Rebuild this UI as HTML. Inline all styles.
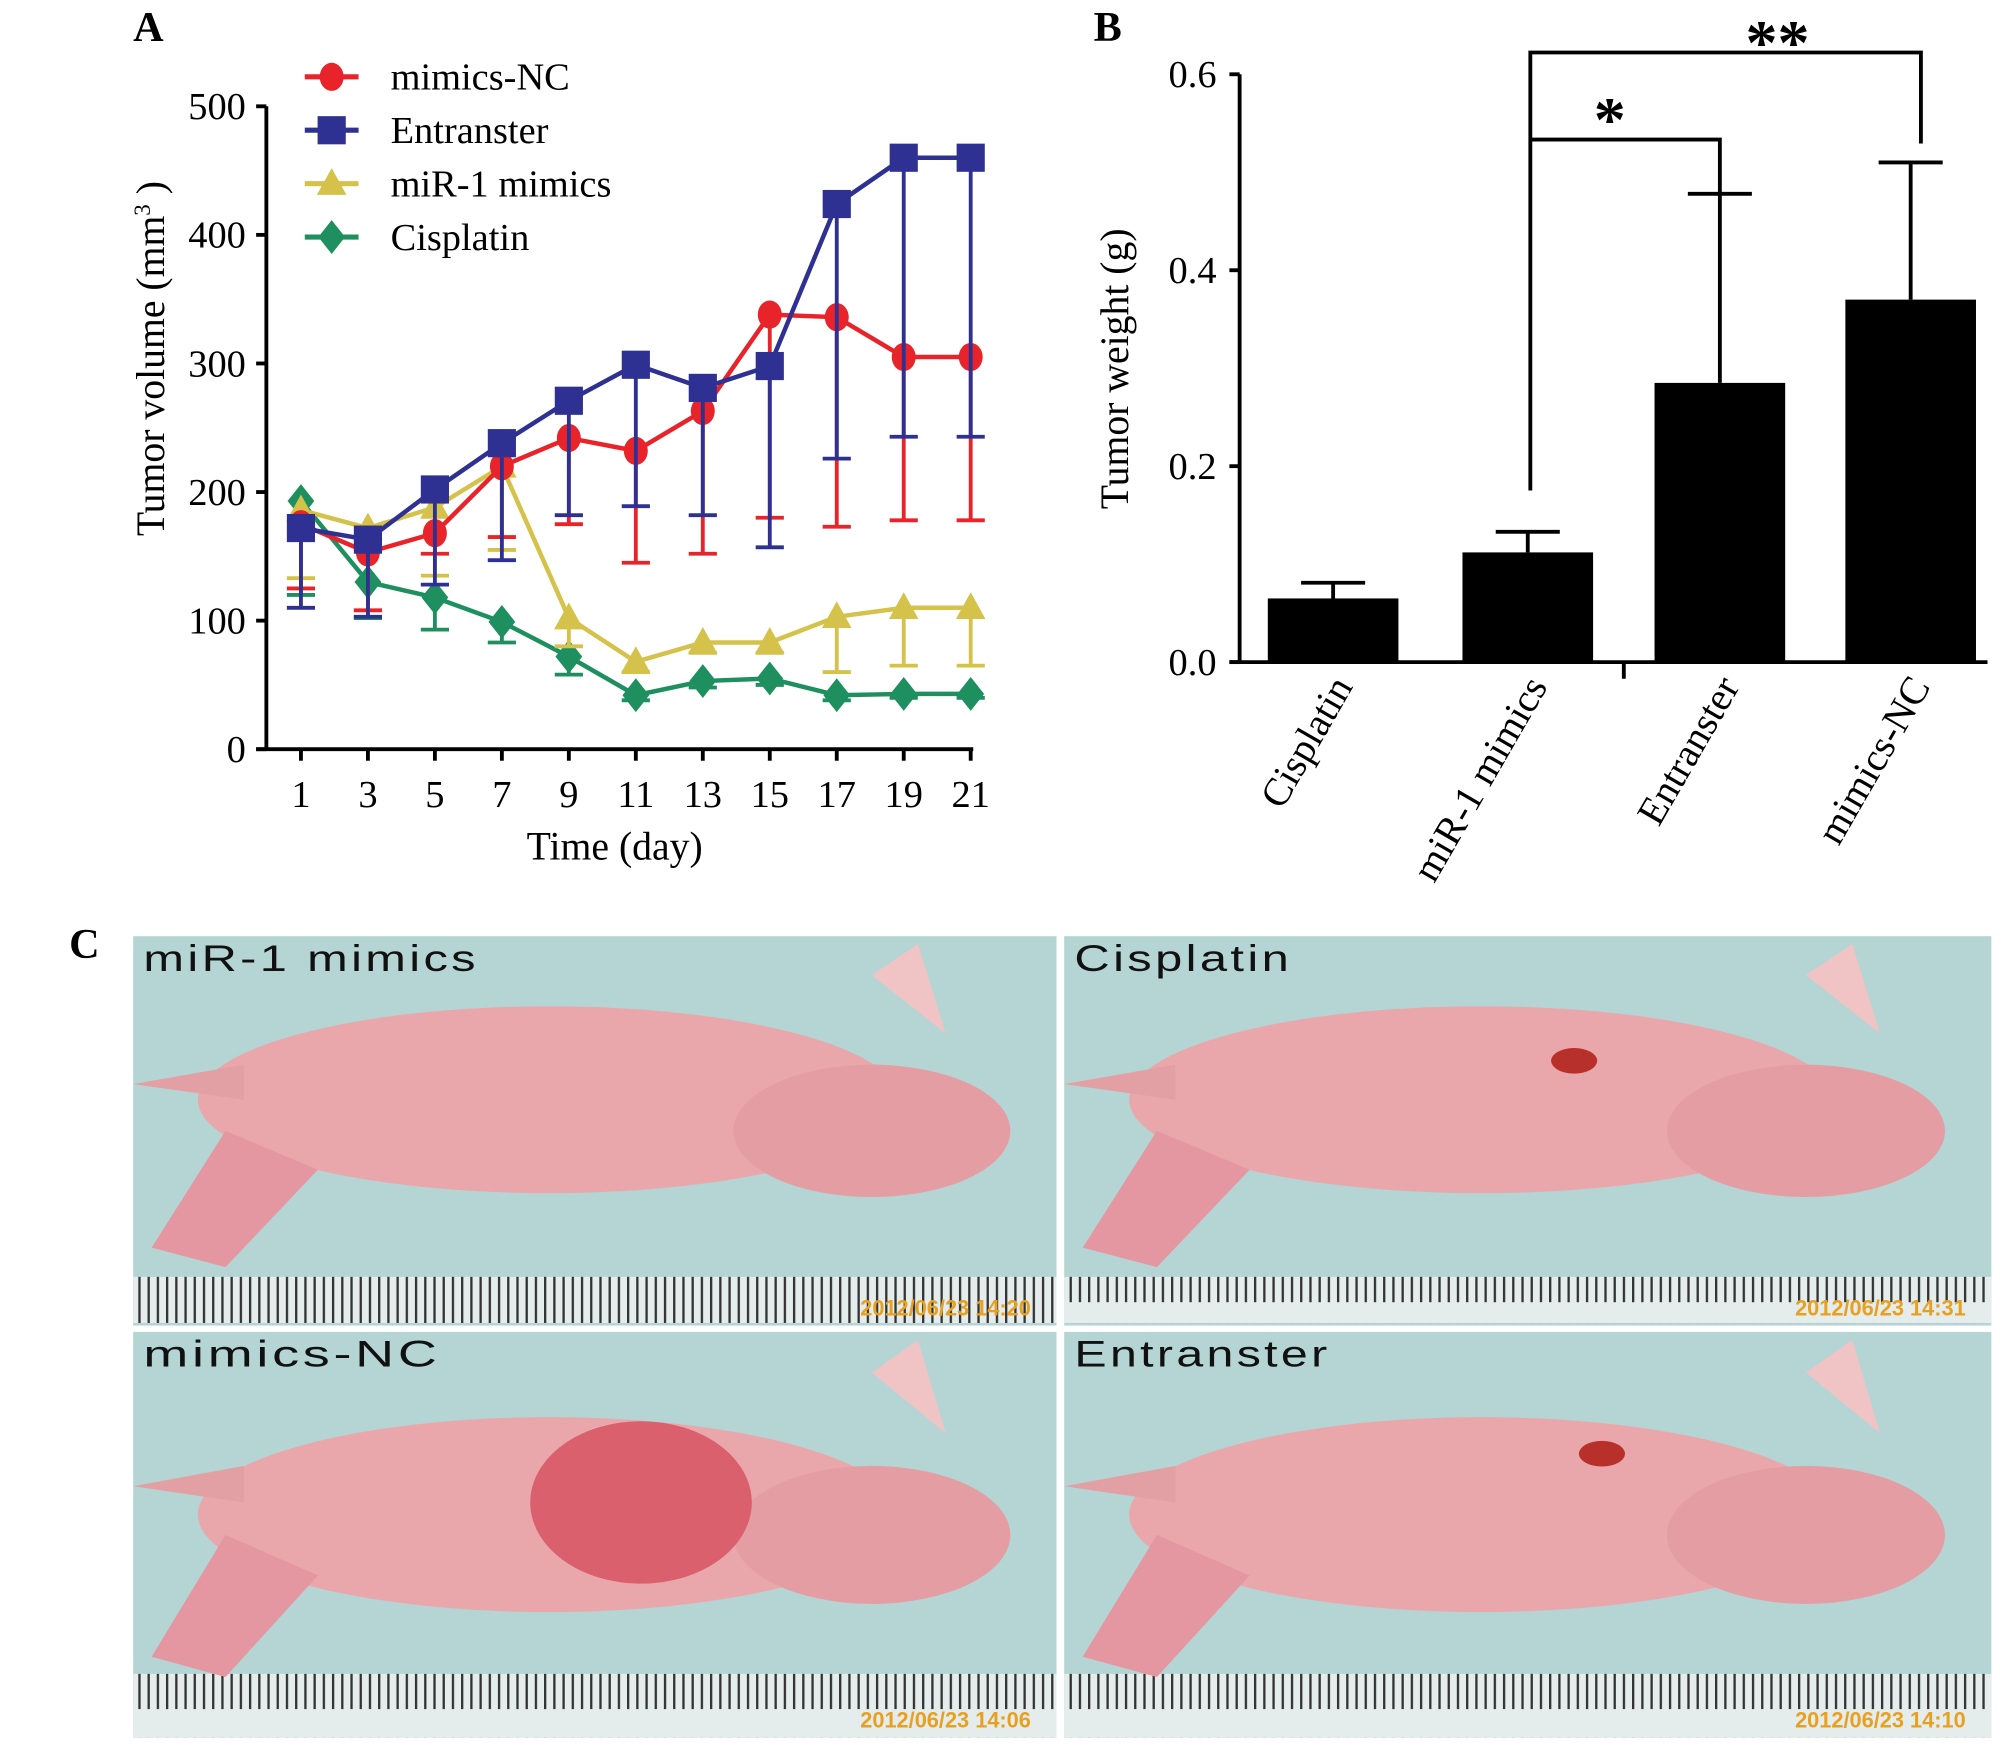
<!DOCTYPE html>
<html><head><meta charset="utf-8"><style>
html,body{margin:0;padding:0;background:#fff;}
svg{display:block;}
text{font-family:"Liberation Serif",serif;}
.sans{font-family:"Liberation Sans",sans-serif;}
</style></head><body>
<svg id="fig" width="2008" height="1752" viewBox="0 0 1568 1368" preserveAspectRatio="none" xmlns="http://www.w3.org/2000/svg">
<defs>
<pattern id="ticks" width="7.2" height="40" patternUnits="userSpaceOnUse"><rect width="7.2" height="40" fill="#e4ecec"/><rect x="0" y="0" width="1.8" height="40" fill="#333"/></pattern>
</defs>
<g id="panelA"></g>
<g id="panelB"></g>
<g id="panelC"></g>
</svg>
<script>
const days=[1,3,5,7,9,11,13,15,17,19,21];
const seriesNames=["mimics-NC","Entranster","miR-1 mimics","Cisplatin"];
const ncMean=[175,153,168,220,242,232,263,338,336,305,305];
const ncLow=[125,108,152,165,175,145,152,180,173,178,178];
const entMean=[172,163,202,238,271,299,281,298,424,460,460];
const entLow=[110,103,128,147,182,189,182,157,226,243,243];
const mirMean=[186,172,188,220,102,68,83,83,103,110,110];
const mirLow=[133,160,135,155,80,60,75,75,60,65,65];
const cisMean=[193,130,118,99,72,42,53,55,42,43,43];
const cisLow=[120,102,93,83,58,38,48,50,38,40,40];
const yTicksA=[0,100,200,300,400,500];
const barCats=["Cisplatin","miR-1 mimics","Entranster","mimics-NC"];
const barVals=[0.065,0.112,0.285,0.37];
const barErr=[0.081,0.133,0.478,0.51];
const yTicksB=["0.0","0.2","0.4","0.6"];

const NS="http://www.w3.org/2000/svg";
function mk(p,tag,a,txt){const e=document.createElementNS(NS,tag);for(const k in a)e.setAttribute(k,a[k]);if(txt!==undefined)e.textContent=txt;p.appendChild(e);return e;}

// Panel A
const A=document.getElementById('panelA');
const xA=d=>235+(d-1)*26.15, yA=v=>585-v*1.004;
let t=mk(A,'text',{x:104,y:32,'font-size':33,'font-weight':'bold'},'A');

let ax=mk(A,'path',{d:`M208 ${yA(500)} V585 M200 585 H760`,stroke:'#000','stroke-width':3,fill:'none'});

yTicksA.forEach(v=>{mk(A,'line',{x1:200,x2:208,y1:yA(v),y2:yA(v),stroke:'#000','stroke-width':3});
 const l=mk(A,'text',{x:192,y:yA(v)+10,'font-size':30,'text-anchor':'end'},v);
 });
days.forEach(d=>{mk(A,'line',{x1:xA(d),x2:xA(d),y1:585,y2:594,stroke:'#000','stroke-width':3});
 const l=mk(A,'text',{x:xA(d),y:630,'font-size':30,'text-anchor':'middle'},d);
 });
t=mk(A,'text',{x:480,y:671,'font-size':31,'text-anchor':'middle'},'Time (day)');

t=mk(A,'text',{transform:'translate(128,280) rotate(-90)','font-size':31,'text-anchor':'middle','xml:space':'preserve'});
t.innerHTML='Tumor  volume (mm<tspan font-size="18" dy="-11">3</tspan><tspan dy="11"> )</tspan>';

const colors=["#e8232a","#2e3192","#d4c24a","#1e9060"];
const shapes=["circle","square","triangle","diamond"];
const means=[ncMean,entMean,mirMean,cisMean], lows=[ncLow,entLow,mirLow,cisLow];
function marker(p,s,x,y,c,r){
 if(s==="circle")return mk(p,'ellipse',{cx:x,cy:y,rx:r*0.85,ry:r,fill:c});
 if(s==="square")return mk(p,'rect',{x:x-r,y:y-r,width:2*r,height:2*r,fill:c});
 if(s==="triangle")return mk(p,'polygon',{points:`${x},${y-r*1.1} ${x+r*1.05},${y+r*0.8} ${x-r*1.05},${y+r*0.8}`,fill:c});
 return mk(p,'polygon',{points:`${x},${y-r*1.2} ${x+r*0.95},${y} ${x},${y+r*1.2} ${x-r*0.95},${y}`,fill:c});
}
[3,2,0,1].forEach(i=>{
 const g=mk(A,'g',{});
 
 
 days.forEach((d,j)=>{const x=xA(d);
  mk(g,'path',{d:`M${x} ${yA(means[i][j])} V${yA(lows[i][j])} M${x-11} ${yA(lows[i][j])} H${x+11}`,stroke:colors[i],'stroke-width':3,fill:'none'});});
 mk(g,'polyline',{points:days.map((d,j)=>xA(d)+','+yA(means[i][j])).join(' '),stroke:colors[i],'stroke-width':3.5,fill:'none'});
 days.forEach((d,j)=>{const m=marker(g,shapes[i],xA(d),yA(means[i][j]),colors[i],11);
  });
});
seriesNames.forEach((n,i)=>{const y=60+i*41.7;
 const g=mk(A,'g',{});
 
 mk(g,'line',{x1:238,x2:280,y1:y,y2:y,stroke:colors[i],'stroke-width':4});
 marker(g,shapes[i],259,y,colors[i],11);
 mk(g,'text',{x:305,y:y+10,'font-size':30},n);});

// Panel B
const B=document.getElementById('panelB');
const yB=v=>517-v*(459/0.6);
const bx=[990,1142,1292,1441], bw=102;
t=mk(B,'text',{x:854,y:32,'font-size':33,'font-weight':'bold'},'B');

ax=mk(B,'path',{d:`M968 ${yB(0.6)} V517 M960 517 H1552 M1268 517 V530`,stroke:'#000','stroke-width':3,fill:'none'});

yTicksB.forEach(s=>{const v=parseFloat(s);mk(B,'line',{x1:960,x2:968,y1:yB(v),y2:yB(v),stroke:'#000','stroke-width':3});
 const l=mk(B,'text',{x:950,y:yB(v)+10,'font-size':30,'text-anchor':'end'},s);
 });
t=mk(B,'text',{transform:'translate(881,288) rotate(-90)','font-size':31,'text-anchor':'middle'},'Tumor weight (g)');

barCats.forEach((c,i)=>{const x=bx[i],cx=x+bw/2;
 mk(B,'path',{d:`M${cx} ${yB(barVals[i])} V${yB(barErr[i])} M${cx-25} ${yB(barErr[i])} H${cx+25}`,stroke:'#000','stroke-width':3,fill:'none'});
 const r=mk(B,'rect',{x:x,y:yB(barVals[i]),width:bw,height:517-yB(barVals[i]),fill:'#000'});
 
 const l=mk(B,'text',{transform:`translate(${cx+16},536) rotate(-60)`,'font-size':31,'text-anchor':'end'},c);
 });
const br=mk(B,'path',{d:'M1195 383 V41 H1500 V112 M1195 109 H1343 V150',stroke:'#000','stroke-width':3,fill:'none'});

t=mk(B,'text',{x:1388,y:50,'font-size':50,'font-weight':'bold','text-anchor':'middle','font-family':'Liberation Sans'},'**');

t=mk(B,'text',{x:1257,y:110,'font-size':50,'font-weight':'bold','text-anchor':'middle','font-family':'Liberation Sans'},'*');


// Panel C
const C=document.getElementById('panelC');
t=mk(C,'text',{x:54,y:748,'font-size':33,'font-weight':'bold'},'C');

const photos=[["miR-1 mimics",104,731,721,304,"2012/06/23 14:20"],["Cisplatin",831,731,724,304,"2012/06/23 14:31"],["mimics-NC",104,1040,721,317,"2012/06/23 14:06"],["Entranster",831,1040,724,317,"2012/06/23 14:10"]];
photos.forEach((p,i)=>{const [n,x,y,w,h,ts]=p;
 const g=mk(C,'g',{});
 
 mk(g,'rect',{x:x,y:y,width:w,height:h,fill:'#b5d4d4'});
 const rh=i<2?36:50, ry=y+h-rh-(i<2?2:0);
 mk(g,'rect',{x:x,y:ry,width:w,height:rh,fill:'url(#ticks)'});
 if(i!==0){mk(g,'rect',{x:x,y:ry+rh*0.55,width:w,height:rh*0.45,fill:'#e4ecec'});}
 const big=i===2;
 mk(g,'ellipse',{cx:x+w*0.45,cy:y+h*(i<2?0.42:0.45),rx:w*0.38,ry:h*0.24,fill:'#e9a7ab'});
 mk(g,'ellipse',{cx:x+w*0.8,cy:y+h*0.5,rx:w*0.15,ry:h*0.17,fill:'#e49ea3'});
 mk(g,'path',{d:`M${x} ${y+h*0.38} L${x+w*0.12} ${y+h*0.33} L${x+w*0.12} ${y+h*0.42} Z`,fill:'#e3a0a4'});
 mk(g,'path',{d:`M${x+w*0.1} ${y+h*0.5} L${x+w*0.02} ${y+h*0.8} L${x+w*0.1} ${y+h*0.85} L${x+w*0.2} ${y+h*0.6} Z`,fill:'#e497a0'});
 mk(g,'path',{d:`M${x+w*0.8} ${y+h*0.1} L${x+w*0.85} ${y+h*0.02} L${x+w*0.88} ${y+h*0.25} Z`,fill:'#f0c4c4'});
 if(big)mk(g,'ellipse',{cx:x+w*0.55,cy:y+h*0.42,rx:w*0.12,ry:h*0.2,fill:'#d9606c'});
 if(i===1||i===3)mk(g,'ellipse',{cx:x+w*(i===1?0.55:0.58),cy:y+h*(i===1?0.32:0.3),rx:18,ry:10,fill:'#b8302a'});
 const l=mk(g,'text',{x:x+8,y:y+27,'font-size':29,'class':'sans',fill:'#111','letter-spacing':2,'textLength':i===0?262:(i===1?170:(i===2?232:200)),'lengthAdjust':'spacingAndGlyphs'},n);
 
 const s=mk(g,'text',{x:x+w-20,y:y+h-8,'font-size':17,'class':'sans','font-weight':'bold','text-anchor':'end',fill:'#e8a020'},ts);
 
});
</script>
</body></html>
